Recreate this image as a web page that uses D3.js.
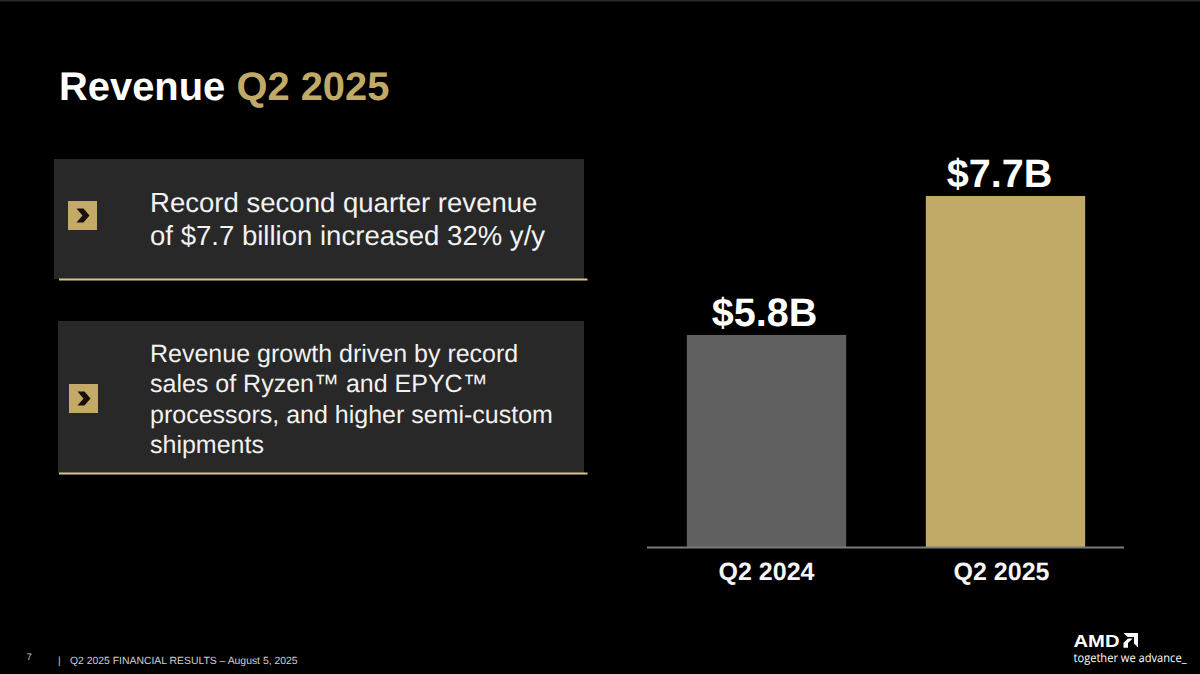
<!DOCTYPE html>
<html><head><meta charset="utf-8">
<script src="https://cdn.jsdelivr.net/npm/d3@7/dist/d3.min.js"></script>
<style>html,body{margin:0;padding:0;background:#000;overflow:hidden}svg{display:block}
text{font-family:"Liberation Sans",Arial,sans-serif;text-rendering:geometricPrecision}</style></head>
<body><svg id="c" width="1200" height="674"></svg>
<script>
const categories = ["Q2 2024","Q2 2025"];
const revenue = [5.8,7.7];
const barLabels = ["$5.8B","$7.7B"];
const barColors = ["#5f5f5f","#c1a968"];
const titleParts = ["Revenue ","Q2 2025"];
const bullet1 = ["Record second quarter revenue","of $7.7 billion increased 32% y/y"];
const bullet2 = ["Revenue growth driven by record","sales of Ryzen™ and EPYC™","processors, and higher semi-custom","shipments"];

const svg = d3.select("#c");
svg.append("rect").attr("width",1200).attr("height",674).attr("fill","#000");
svg.append("rect").attr("width",1200).attr("height",1.5).attr("fill","#2a2a2a");

const title = svg.append("text").attr("x",59).attr("y",100).attr("font-size",39.9).attr("font-weight",700);
title.append("tspan").attr("fill","#fff").text(titleParts[0]);
title.append("tspan").attr("fill","#c1a968").text(titleParts[1]);

function panel(x,y,w,h,ly,iy,lines,firstY,step,ix,fs){
  svg.append("rect").attr("x",x).attr("y",y).attr("width",w).attr("height",h).attr("fill","#282828");
  svg.append("line").attr("x1",59).attr("x2",587.5).attr("y1",ly).attr("y2",ly).attr("stroke","#d8c48e").attr("stroke-width",1.8);
  svg.append("rect").attr("x",ix).attr("y",iy).attr("width",29).attr("height",29).attr("fill","#c4aa68");
  const cx=ix+14.5, cy=iy+14.5;
  svg.append("path").attr("d",`M${cx-6} ${cy-7}L${cx+1} ${cy-7}L${cx+7} ${cy}L${cx+1} ${cy+7}L${cx-6} ${cy+7}L${cx} ${cy}Z`).attr("fill","#1a0f08");
  svg.selectAll(null).data(lines).join("text").attr("x",150).attr("y",(d,i)=>firstY+i*step)
    .attr("fill","#f2f2f2").attr("font-size",fs).text(d=>d);
}
panel(54,159,530,120,279.5,201,bullet1,212,33,68,27.55);
panel(58,321,526,152,473.5,384,bullet2,362,30.4,69,25);

const x = d3.scaleBand().domain(categories).range([647,1125]).paddingInner(1/3).paddingOuter(1/6);
const y = d3.scaleLinear().domain([2.9,7.7]).range([547,196]);
const rows = categories.map((c,i)=>({c,v:revenue[i],l:barLabels[i],f:barColors[i]}));
const labelShift = [-2,-6], tickShift = [0,-4];
svg.selectAll(null).data(rows).join("rect").attr("x",d=>x(d.c)).attr("y",d=>y(d.v))
  .attr("width",x.bandwidth()).attr("height",d=>y(y.domain()[0])-y(d.v)).attr("fill",d=>d.f);
svg.selectAll(null).data(rows).join("text").attr("x",(d,i)=>x(d.c)+x.bandwidth()/2+labelShift[i]).attr("y",d=>y(d.v)-9)
  .attr("text-anchor","middle").attr("fill","#fff").attr("font-size",39.6).attr("font-weight",700).text(d=>d.l);

const axis = svg.append("g").attr("transform","translate(0,547.5)")
  .call(d3.axisBottom(x).tickSize(0).tickPadding(15));
axis.select(".domain").attr("stroke","#7a7a7a").attr("stroke-width",2).attr("d","M647,0H1124");
axis.selectAll("text").attr("fill","#f5f5f5").attr("font-size",25).attr("font-weight",700)
  .attr("dx",(d,i)=>tickShift[i])
  .style("font-family",'"Liberation Sans",Arial,sans-serif');

svg.append("text").attr("x",26.5).attr("y",660).attr("fill","#cfcfcf").attr("font-size",9.5).text("7");
svg.append("text").attr("x",58).attr("y",664).attr("fill","#cfcfcf").attr("font-size",10.4).text("|");
svg.append("text").attr("x",70).attr("y",664).attr("fill","#cfcfcf").attr("font-size",10.4).text("Q2 2025 FINANCIAL RESULTS – August 5, 2025");

// AMD logo
svg.append("text").attr("x",1073.5).attr("y",646.5).attr("fill","#fff").attr("font-size",17.5).attr("font-weight",700)
  .attr("textLength",46).attr("lengthAdjust","spacingAndGlyphs").text("AMD");
svg.append("path").attr("fill","#fff").attr("d","M1123.5 633H1138V647.5L1134 643.5V637H1127.5Z M1123.5 642.7L1128 638.5H1132.7L1128 643V647.7H1123.5Z");
svg.append("text").attr("x",1073.5).attr("y",661.5).attr("fill","#fff").style("font-family",'"Open Sans",sans-serif').attr("font-size",12)
  .attr("textLength",113).attr("lengthAdjust","spacingAndGlyphs").text("together we advance_");
</script></body></html>
